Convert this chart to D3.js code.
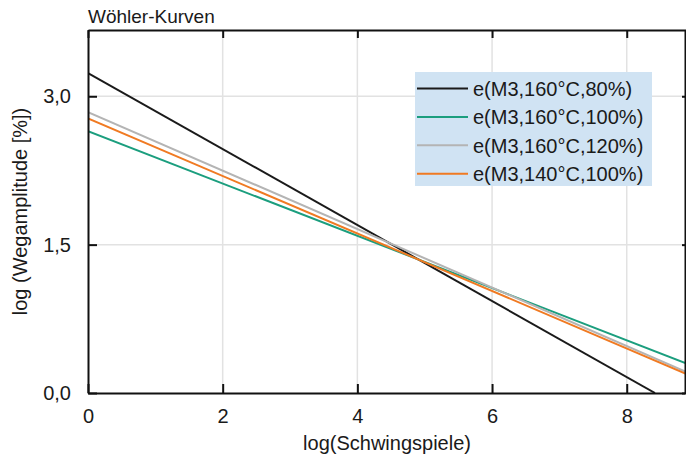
<!DOCTYPE html>
<html>
<head>
<meta charset="utf-8">
<script src="https://cdn.jsdelivr.net/npm/d3@7"></script>
<style>
  html, body { margin: 0; padding: 0; background: #fff; }
  svg { display: block; font-family: "Liberation Sans", Arial, sans-serif; }
</style>
</head>
<body>
<svg id="chart" width="686" height="458"></svg>
<script>
// Wöhler curves: log(amplitude) over log(cycles), one straight line per test condition
const seriesNames = [
  "e(M3,160°C,80%)",
  "e(M3,160°C,100%)",
  "e(M3,160°C,120%)",
  "e(M3,140°C,100%)"
];
const seriesColors = ["#1a1a1a", "#1b9e7e", "#b4b4b4", "#f07a22"];
// each curve given by its two end points [log N, log amplitude]
const curve80  = [[0, 3.235], [8.42, 0.0]];
const curve100 = [[0, 2.646], [8.88, 0.30]];
const curve120 = [[0, 2.84],  [8.88, 0.215]];
const curve140 = [[0, 2.775], [8.88, 0.195]];
const curves = [curve80, curve100, curve120, curve140];

const xTicks = [0, 2, 4, 6, 8];
const yTicks = [0, 1.5, 3.0];
const xDomain = [0, 8.88];
const yDomain = [0, 3.67];

const svg = d3.select("#chart");
const m = { left: 88, right: 686, top: 30, bottom: 393 };

const x = d3.scaleLinear().domain(xDomain).range([m.left, m.right]);
const y = d3.scaleLinear().domain(yDomain).range([m.bottom, m.top]);
const fmtY = v => d3.format(".1f")(v).replace(".", ",");

// grid
const grid = svg.append("g").attr("stroke", "#e2e2e2").attr("stroke-width", 1.5);
grid.selectAll(".gx").data(xTicks.filter(t => t > 0)).join("line")
  .attr("x1", d => x(d)).attr("x2", d => x(d))
  .attr("y1", m.top).attr("y2", m.bottom);
grid.selectAll(".gy").data(yTicks.filter(t => t > 0)).join("line")
  .attr("x1", m.left).attr("x2", m.right)
  .attr("y1", d => y(d)).attr("y2", d => y(d));

// curves
const clip = svg.append("clipPath").attr("id", "plotclip").append("rect")
  .attr("x", m.left).attr("y", m.top)
  .attr("width", m.right - m.left).attr("height", m.bottom - m.top);
const line = d3.line().x(d => x(d[0])).y(d => y(d[1]));
svg.append("g").attr("clip-path", "url(#plotclip)")
  .selectAll("path").data(curves).join("path")
  .attr("d", line)
  .attr("fill", "none")
  .attr("stroke", (d, i) => seriesColors[i])
  .attr("stroke-width", 2);

// axes with inward ticks on all four sides
const axisStyle = g => {
  g.select(".domain").attr("stroke", "#111").attr("stroke-width", 2);
  g.selectAll(".tick line").attr("stroke", "#111").attr("stroke-width", 2);
  g.selectAll("text").attr("fill", "#1a1a1a").style("font-size", "20px");
};
svg.append("g").attr("transform", `translate(0,${m.bottom})`)
  .call(d3.axisBottom(x).tickValues(xTicks).tickFormat(d3.format("d"))
    .tickSizeInner(-9).tickSizeOuter(0).tickPadding(16))
  .call(axisStyle);
svg.append("g").attr("transform", `translate(0,${m.top})`)
  .call(d3.axisTop(x).tickValues(xTicks).tickFormat("")
    .tickSizeInner(-8).tickSizeOuter(0))
  .call(axisStyle);
svg.append("g").attr("transform", `translate(${m.left},0)`)
  .call(d3.axisLeft(y).tickValues(yTicks).tickFormat(fmtY)
    .tickSizeInner(-9).tickSizeOuter(0).tickPadding(17))
  .call(axisStyle);
svg.append("g").attr("transform", `translate(${m.right - 1},0)`)
  .call(d3.axisRight(y).tickValues(yTicks).tickFormat("")
    .tickSizeInner(-3).tickSizeOuter(0))
  .call(axisStyle);

// bottom-left tick labels sit tight against the corner
svg.selectAll("text").attr("font-family", "Liberation Sans, Arial, sans-serif");

// title and axis titles
svg.append("text").attr("x", 88).attr("y", 23)
  .attr("fill", "#1a1a1a").style("font-size", "19px").text("Wöhler-Kurven");
svg.append("text").attr("x", (m.left + m.right) / 2).attr("y", 450)
  .attr("text-anchor", "middle").attr("fill", "#1a1a1a").style("font-size", "20px")
  .text("log(Schwingspiele)");
svg.append("text")
  .attr("transform", `translate(27,${(m.top + m.bottom) / 2}) rotate(-90)`)
  .attr("text-anchor", "middle").attr("fill", "#1a1a1a").style("font-size", "20px")
  .text("log (Wegamplitude [%])");

// legend
const lg = svg.append("g").attr("transform", "translate(415,72)");
lg.append("rect").attr("width", 237).attr("height", 114).attr("fill", "#d0e3f3");
const rows = lg.selectAll("g.row").data(seriesNames).join("g")
  .attr("transform", (d, i) => `translate(0,${16.5 + i * 28.4})`);
rows.append("line").attr("x1", 2).attr("x2", 53)
  .attr("stroke", (d, i) => seriesColors[i]).attr("stroke-width", 2);
rows.append("text").attr("x", 58).attr("dy", "0.36em")
  .attr("fill", "#1a1a1a").style("font-size", "20px").text(d => d);
</script>
</body>
</html>
